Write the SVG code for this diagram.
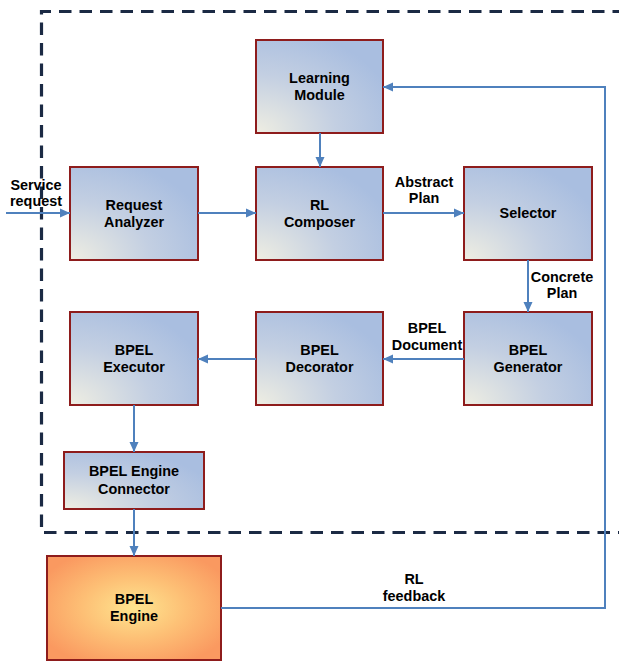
<svg xmlns="http://www.w3.org/2000/svg" width="619" height="662" viewBox="0 0 619 662">
<defs>
<radialGradient id="gBlue" cx="0" cy="1" r="1.15" fx="0" fy="1">
<stop offset="0" stop-color="#efeee2"/>
<stop offset="0.55" stop-color="#c3cfe2"/>
<stop offset="1" stop-color="#a9bee0"/>
</radialGradient>
<radialGradient id="gOrange" cx="0.5" cy="0.5" r="0.6">
<stop offset="0" stop-color="#fee58f"/>
<stop offset="0.5" stop-color="#fdbf75"/>
<stop offset="1" stop-color="#fa9960"/>
</radialGradient>
<marker id="arr" markerUnits="userSpaceOnUse" markerWidth="10" markerHeight="10" viewBox="0 0 10 10" refX="10" refY="5" orient="auto">
<path d="M0,0.5 L10,5 L0,9.5 Z" fill="#4f81bd"/>
</marker>
<style>
.node rect{fill:url(#gBlue);stroke:#8e1c1c;stroke-width:2}
.engine rect{fill:url(#gOrange);stroke:#8e1c1c;stroke-width:2}
text{font-family:"Liberation Sans",Arial,sans-serif;font-weight:bold;font-size:14.4px;fill:#000;text-anchor:middle}
.conn path{fill:none;stroke:#4f81bd;stroke-width:2}
.arr{marker-end:url(#arr)}
</style>
</defs>
<rect x="0" y="0" width="619" height="662" fill="#ffffff"/>
<path d="M625,11.5 H41.5 V532.5 H625" fill="none" stroke="#1b2a44" stroke-width="3.2" stroke-dasharray="12.5,8" stroke-linecap="butt"/>

<g id="learning-module" class="node"><rect x="256" y="40" width="127" height="93"/><text x="319.5" y="82.5">Learning</text><text x="319.5" y="99.5">Module</text></g>
<g id="request-analyzer" class="node"><rect x="70" y="167" width="128" height="93"/><text x="134" y="209.5">Request</text><text x="134" y="226.5">Analyzer</text></g>
<g id="rl-composer" class="node"><rect x="256" y="167" width="127" height="93"/><text x="319.5" y="209.5">RL</text><text x="319.5" y="226.5">Composer</text></g>
<g id="selector" class="node"><rect x="464" y="167" width="128" height="93"/><text x="528" y="218">Selector</text></g>
<g id="bpel-executor" class="node"><rect x="70" y="312" width="128" height="93"/><text x="134" y="355">BPEL</text><text x="134" y="372">Executor</text></g>
<g id="bpel-decorator" class="node"><rect x="256" y="312" width="127" height="93"/><text x="319.5" y="355">BPEL</text><text x="319.5" y="372">Decorator</text></g>
<g id="bpel-generator" class="node"><rect x="464" y="312" width="128" height="93"/><text x="528" y="355">BPEL</text><text x="528" y="372">Generator</text></g>
<g id="bpel-engine-connector" class="node"><rect x="64" y="452" width="140" height="57"/><text x="134" y="476">BPEL Engine</text><text x="134" y="494">Connector</text></g>
<g id="bpel-engine" class="engine"><rect x="47" y="556" width="174" height="104"/><text x="134" y="604">BPEL</text><text x="134" y="621">Engine</text></g>

<g id="connectors" class="conn">
<path class="arr" d="M6,213 H70"/>
<path class="arr" d="M198,213 H256"/>
<path class="arr" d="M320,133 V167"/>
<path class="arr" d="M383,213 H464"/>
<path class="arr" d="M528,260 V312"/>
<path class="arr" d="M464,359 H383"/>
<path class="arr" d="M256,359 H198"/>
<path class="arr" d="M134,405 V452"/>
<path class="arr" d="M134,509 V556"/>
<path class="arr" d="M221,608 H605 V87 H383"/>
</g>
<g id="connector-labels">
<text x="36" y="190">Service</text><text x="36" y="206">request</text>
<text x="424" y="187">Abstract</text><text x="424" y="203">Plan</text>
<text x="562" y="282">Concrete</text><text x="562" y="298">Plan</text>
<text x="427" y="333">BPEL</text><text x="427" y="350">Document</text>
<text x="414" y="584">RL</text><text x="414" y="601">feedback</text>
</g>
</svg>
